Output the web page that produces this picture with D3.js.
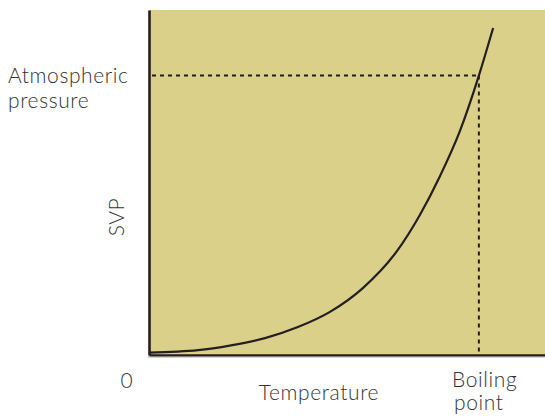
<!DOCTYPE html>
<html><head><meta charset="utf-8">
<script src="https://cdn.jsdelivr.net/npm/d3@7"></script>
<style>html,body{margin:0;padding:0;background:#fff;}svg{display:block;}</style>
</head><body>
<script>
// Curve data (temperature, SVP) in arbitrary units 0..100
const temperature = [0, 12.4, 20.7, 29.3, 37.6, 45.7, 54.0, 62.6, 68.4, 73.5, 78.5, 83.3, 86.9];
const svp = [0.7, 1.4, 2.8, 4.9, 8.1, 12.5, 19.4, 30.1, 40.6, 51.9, 64.9, 81.0, 94.8];
const boilingPoint = 83.3;
const atmosphericPressure = 81.0;
const xLabels = ["0", "Temperature", "Boiling point"];
const yLabels = ["SVP", "Atmospheric pressure"];

const W = 545, H = 416;
const x = d3.scaleLinear().domain([0, 100]).range([149, 545]);
const y = d3.scaleLinear().domain([0, 100]).range([355, 10]);
const ink = "#231f20", txt = "#333";
const font = "Lato, 'Open Sans', sans-serif";
const fs = 21;

const svg = d3.select("body").append("svg").attr("width", W).attr("height", H);

svg.append("rect").attr("x", x(0)).attr("y", y(100))
  .attr("width", x(100) - x(0)).attr("height", y(0) - y(100)).attr("fill", "#dbd089");

const pts = temperature.map((t, i) => [t, svp[i]]);
svg.append("path").datum(pts)
  .attr("d", d3.line().x(d => x(d[0])).y(d => y(d[1])).curve(d3.curveMonotoneX))
  .attr("fill", "none").attr("stroke", ink).attr("stroke-width", 2.2);

// dashed guides
svg.append("line").attr("x1", x(0) + 3).attr("x2", x(boilingPoint))
  .attr("y1", y(atmosphericPressure)).attr("y2", y(atmosphericPressure))
  .attr("stroke", ink).attr("stroke-width", 2).attr("stroke-dasharray", "4,4");
svg.append("line").attr("x1", x(boilingPoint)).attr("x2", x(boilingPoint))
  .attr("y1", y(atmosphericPressure)).attr("y2", y(0))
  .attr("stroke", ink).attr("stroke-width", 2).attr("stroke-dasharray", "4,4");

// axes
const xAxis = d3.axisBottom(x).tickValues([]).tickSizeOuter(0);
const yAxis = d3.axisLeft(y).tickValues([]).tickSizeOuter(0);
const gx = svg.append("g").attr("transform", `translate(0,${y(0)})`).call(xAxis);
const gy = svg.append("g").attr("transform", `translate(${x(0)},0)`).call(yAxis);
[gx, gy].forEach(g => g.select(".domain").attr("stroke", ink).attr("stroke-width", 2.6));
svg.append("line").attr("x1", x(0) - 1).attr("x2", x(100)).attr("y1", y(0) + 2).attr("y2", y(0) + 2)
  .attr("stroke", "#aaa").attr("stroke-width", 1);

const T = (s, xx, yy, anchor) => svg.append("text").attr("x", xx).attr("y", yy)
  .attr("text-anchor", anchor || "start").attr("font-family", font).attr("font-size", fs)
  .attr("font-weight", 300).attr("letter-spacing", 0.6).attr("fill", txt).text(s);

T(xLabels[0], 127, 388, "middle");
T(xLabels[1], 319, 400, "middle");
const bp = xLabels[2].split(" ");
T(bp[0], 452, 387);
T(bp[1], 454, 410);
const ap = yLabels[1].split(" ");
T(ap[0], 8, 83);
T(ap[1], 8, 108);
svg.append("text").attr("transform", "translate(124,217) rotate(-90)")
  .attr("text-anchor", "middle").attr("font-family", font).attr("font-size", fs)
  .attr("font-weight", 300).attr("letter-spacing", 0.6).attr("fill", txt).text(yLabels[0]);
</script>
</body></html>
